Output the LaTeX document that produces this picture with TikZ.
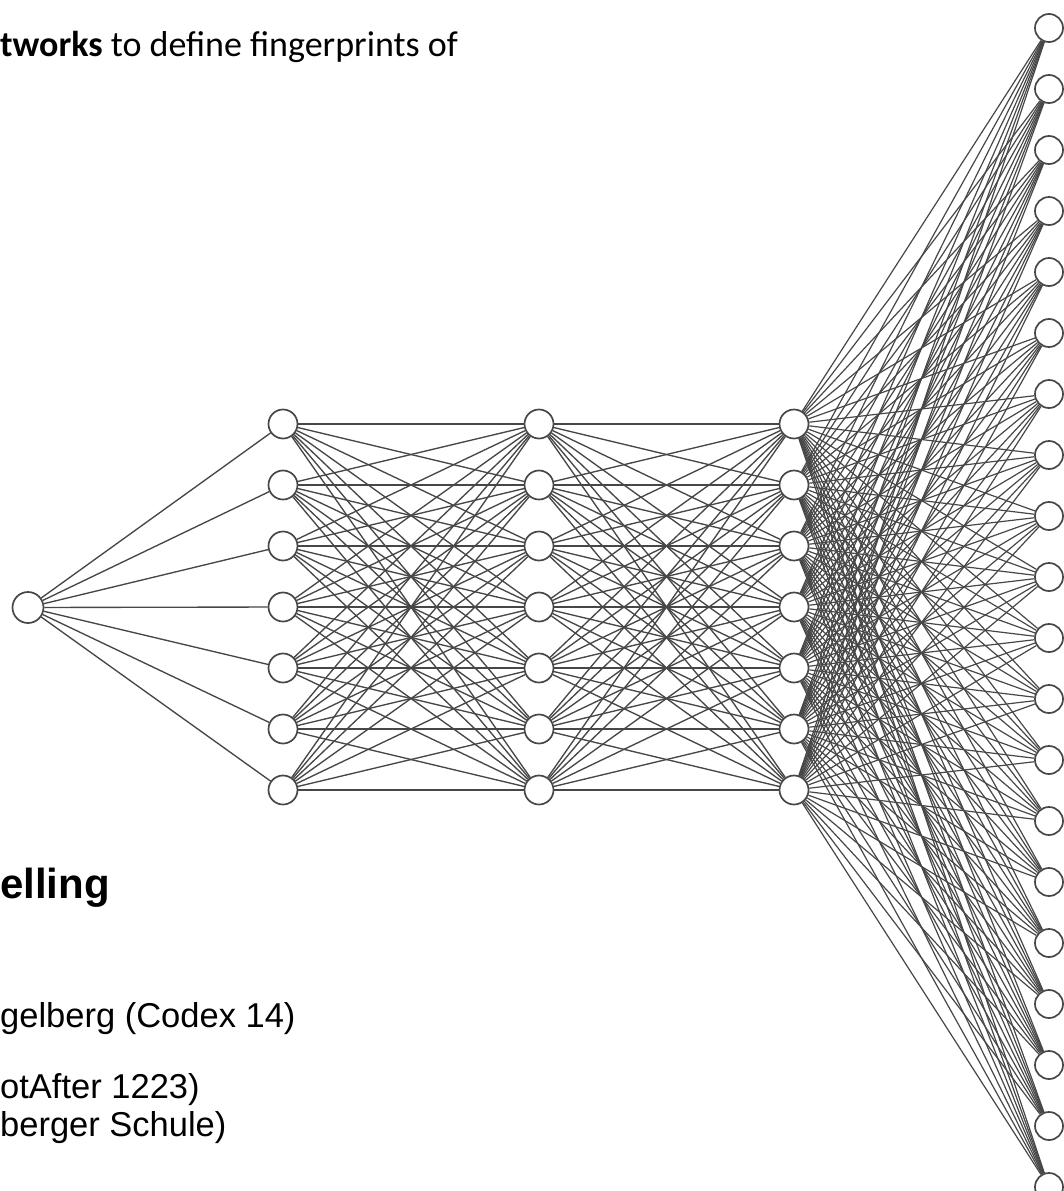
\documentclass[tikz,border=0pt]{standalone}
\usepackage{fontspec}
\setmainfont{Liberation Sans}
\newfontfamily\slidefont{Carlito}
\begin{document}
\begin{tikzpicture}[x=1pt,y=-1pt,
  neuron/.style={circle,draw=black!72,fill=white,line width=1.7pt,minimum size=29pt,inner sep=0pt},
  wire/.style={draw=black!72,line width=1.35pt},
  densewire/.style={draw=black!72,line width=1.2pt}]
\useasboundingbox (0,0) rectangle (1064,1191);

% input unit
\node[neuron,minimum size=31pt] (in) at (28,607.5) {};

% three hidden layers of seven units
\foreach \l/\x in {1/283,2/539,3/794}{
  \foreach \i in {0,...,6}{
    \node[neuron] (h\l-\i) at (\x,{424+61*\i}) {};
  }
}

% twenty output units
\foreach \j in {0,...,19}{
  \node[neuron,minimum size=28pt] (o\j) at (1049,{28+61*\j}) {};
}

% connections
\foreach \i in {0,...,6}{
  \draw[wire] (in) -- (h1-\i);
}
\foreach \i in {0,...,6}{
  \foreach \k in {0,...,6}{
    \draw[wire] (h1-\i) -- (h2-\k);
    \draw[wire] (h2-\i) -- (h3-\k);
  }
}
\foreach \i in {0,...,6}{
  \foreach \j in {0,...,19}{
    \draw[densewire] (h3-\i) -- (o\j);
  }
}

% slide text around the network
\node[anchor=base west,inner sep=0pt] (title) at (0,56)
  {\slidefont\fontsize{36}{43}\selectfont\textbf{tworks} to define fingerprints of};
\node[anchor=base west,inner sep=0pt] (head) at (0,898)
  {\fontsize{42}{48}\selectfont\textbf{elling}};
\node[anchor=base west,inner sep=0pt] (src1) at (0,1027)
  {\fontsize{34.5}{40}\selectfont gelberg (Codex 14)};
\node[anchor=base west,inner sep=0pt] (src2) at (0,1098)
  {\fontsize{34.5}{40}\selectfont otAfter 1223)};
\node[anchor=base west,inner sep=0pt] (src3) at (0,1136)
  {\fontsize{34.5}{40}\selectfont berger Schule)};
\end{tikzpicture}
\end{document}
